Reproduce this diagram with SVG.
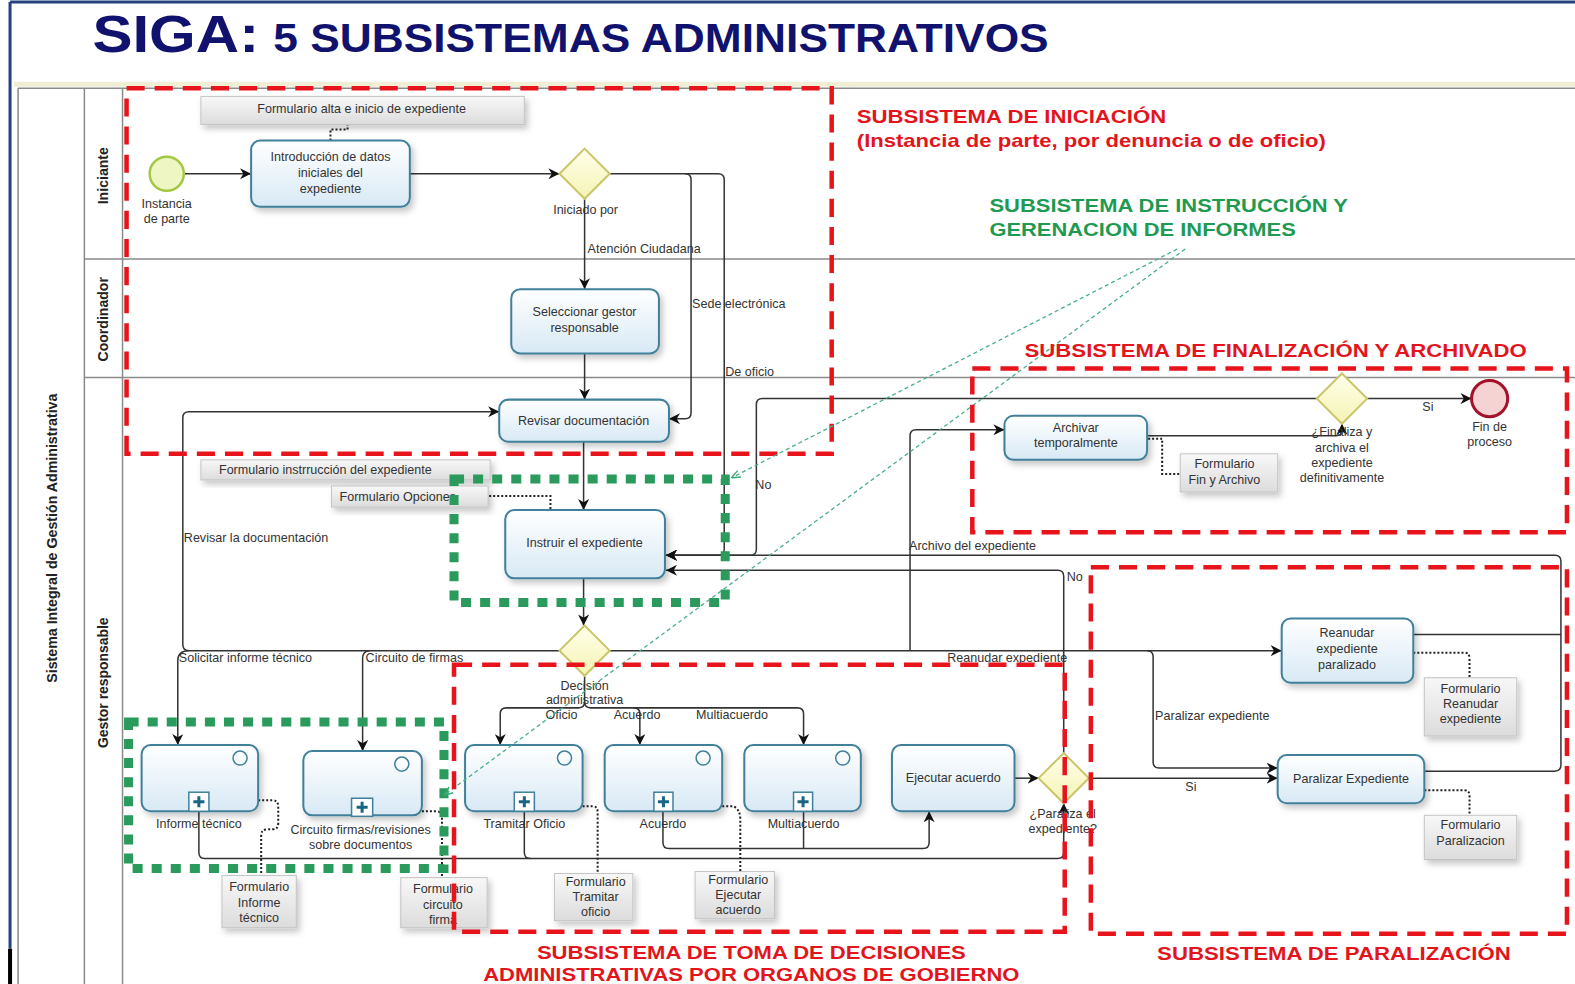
<svg xmlns="http://www.w3.org/2000/svg" width="1575" height="984" viewBox="0 0 1575 984">
<defs>
<linearGradient id="gTask" x1="0" y1="0" x2="0" y2="1"><stop offset="0" stop-color="#ffffff"/><stop offset="1" stop-color="#d8e9f5"/></linearGradient>
<linearGradient id="gGw" x1="0" y1="0" x2="0" y2="1"><stop offset="0" stop-color="#ffffea"/><stop offset="1" stop-color="#f5f3b4"/></linearGradient>
<linearGradient id="gAnn" x1="0" y1="0" x2="0" y2="1"><stop offset="0" stop-color="#f8f8f8"/><stop offset="1" stop-color="#dcdcdc"/></linearGradient>
<filter id="sh" x="-10%" y="-10%" width="130%" height="150%"><feDropShadow dx="3" dy="4" stdDeviation="3" flood-color="#000" flood-opacity="0.22"/></filter>
<marker id="arr" viewBox="0 0 10 10" refX="10" refY="5" markerWidth="11" markerHeight="11" markerUnits="userSpaceOnUse" orient="auto"><path d="M0,0 L10,5 L0,10 L3,5 z" fill="#111"/></marker>
<marker id="arrG" viewBox="0 0 10 10" refX="10" refY="5" markerWidth="9" markerHeight="9" markerUnits="userSpaceOnUse" orient="auto"><path d="M0,1 L10,5 L0,9" fill="none" stroke="#3aa878" stroke-width="1.5"/></marker>
</defs>
<style>
.task{fill:url(#gTask);stroke:#41809b;stroke-width:2;filter:url(#sh)}
.gw{fill:url(#gGw);stroke:#c9c66a;stroke-width:2}
.ann{fill:url(#gAnn);stroke:#c4c4c4;stroke-width:1;filter:url(#sh)}
.c{fill:none;stroke:#333;stroke-width:1.5}
.ca{fill:none;stroke:#333;stroke-width:1.5;marker-end:url(#arr)}
.dot{fill:none;stroke:#222;stroke-width:2;stroke-dasharray:2 2}
.t{font-family:"Liberation Sans",Arial,sans-serif;font-size:12.5px;fill:#333;text-anchor:middle}
.l{font-family:"Liberation Sans",Arial,sans-serif;font-size:12.5px;fill:#333}
.red{fill:none;stroke:#e8141c;stroke-width:4.5;stroke-dasharray:18 10}
.green{fill:none;stroke:#2a9b5c;stroke-width:9;stroke-dasharray:10 9}
.gl{fill:none;stroke:#48b088;stroke-width:1.3;stroke-dasharray:4 3;marker-end:url(#arrG)}
.rt{font-family:"Liberation Sans",Arial,sans-serif;font-weight:bold;font-size:19px;fill:#e3151c}
.gt{font-family:"Liberation Sans",Arial,sans-serif;font-weight:bold;font-size:19px;fill:#1f9a52}
.lane{stroke:#8a8a8a;stroke-width:1.5;fill:none}
.lt{font-family:"Liberation Sans",Arial,sans-serif;font-weight:bold;font-size:14px;fill:#222;text-anchor:middle}
.sub{fill:#ffffff;stroke:#41809b;stroke-width:1.5}
.plus{stroke:#1a6585;stroke-width:3}
.ev{fill:none;stroke:#41809b;stroke-width:1.5}
</style>
<rect width="1575" height="984" fill="#ffffff"/>
<g transform="scale(1.00446,1.00408)">
<!-- frame -->
<g id="frame">
<line x1="10" y1="2" x2="1575" y2="2" stroke="#23427e" stroke-width="3"/>
<line x1="10" y1="2" x2="10" y2="945" stroke="#23427e" stroke-width="3"/>
<line x1="10" y1="945" x2="10" y2="984" stroke="#000" stroke-width="4"/>
<line x1="14" y1="84" x2="1575" y2="84" stroke="#f1eed6" stroke-width="5"/>
</g>
<g id="title">
<text x="92" y="52" font-family="Liberation Sans, Arial, sans-serif" font-weight="bold" font-size="52" fill="#11116e" textLength="166" lengthAdjust="spacingAndGlyphs">SIGA:</text>
<text x="272" y="52" font-family="Liberation Sans, Arial, sans-serif" font-weight="bold" font-size="41" fill="#11116e" textLength="772" lengthAdjust="spacingAndGlyphs">5 SUBSISTEMAS ADMINISTRATIVOS</text>
</g>
<!-- pool & lanes -->
<g id="pool">
<line class="lane" x1="18" y1="88" x2="1575" y2="88"/>
<line class="lane" x1="18" y1="88" x2="18" y2="984"/>
<line class="lane" x1="84" y1="88" x2="84" y2="984"/>
<line class="lane" x1="122" y1="88" x2="122" y2="984"/>
<line class="lane" x1="84" y1="258" x2="1575" y2="258"/>
<line class="lane" x1="84" y1="376" x2="1575" y2="376"/>
<text class="lt" transform="translate(57,536) rotate(-90)" textLength="288" lengthAdjust="spacingAndGlyphs">Sistema Integral de Gestión Administrativa</text>
<text class="lt" transform="translate(108,175) rotate(-90)" textLength="57" lengthAdjust="spacingAndGlyphs">Iniciante</text>
<text class="lt" transform="translate(108,318) rotate(-90)" textLength="84" lengthAdjust="spacingAndGlyphs">Coordinador</text>
<text class="lt" transform="translate(108,680) rotate(-90)" textLength="130" lengthAdjust="spacingAndGlyphs">Gestor responsable</text>
</g>
<!-- connectors -->
<g id="connectors">
<path class="ca" d="M184,173 H250"/>
<path class="ca" d="M408,173 H557"/>
<path class="ca" d="M582,198 V288"/>
<path class="ca" d="M607,173 H715 Q721,173 721,179 V547 Q721,553 715,553 H663"/>
<path class="ca" d="M682,173 Q688,173 688,179 V411 Q688,417 682,417 H666"/>
<path class="ca" d="M582,352 V398"/>
<path class="ca" d="M581,440 V508"/>
<path class="ca" d="M581,576 V623"/>
<path class="ca" d="M557,648 H188 Q182,648 182,642 V416 Q182,410 188,410 H497"/>
<path class="ca" d="M188,648 Q177,648 177,658 V742"/>
<path class="ca" d="M368,648 Q361,648 361,656 V748"/>
<path class="c" d="M582,673 V699"/>
<path class="ca" d="M582,699 Q582,705 576,705 H504 Q498,705 498,711 V742"/>
<path class="ca" d="M582,699 Q582,705 588,705 H631 Q637,705 637,711 V742"/>
<path class="ca" d="M631,705 H794 Q800,705 800,711 V742"/>
<path class="ca" d="M607,648 H1276"/>
<path class="ca" d="M1142,648 Q1148,648 1148,654 V759 Q1148,765 1154,765 H1272"/>
<path class="ca" d="M1084,775 H1272"/>
<path class="ca" d="M1010,775 H1034"/>
<path class="ca" d="M1059,750 V574 Q1059,568 1053,568 H663"/>
<path class="ca" d="M198,808 V849 Q198,855 204,855 H1053 Q1059,855 1059,849 V800"/>
<path class="c" d="M522,808 V849 Q522,855 528,855"/>
<path class="ca" d="M660,808 V839 Q660,845 666,845 H919 Q925,845 925,839 V808"/>
<path class="c" d="M800,808 V845"/>
<path class="c" d="M1407,632 H1554"/>
<path class="ca" d="M1418,768 H1548 Q1554,768 1554,762 V559 Q1554,553 1548,553 H663"/>
<path class="ca" d="M1311,397 H759 Q753,397 753,403 V547 Q753,553 747,553 H663"/>
<path class="ca" d="M906,648 V434 Q906,428 912,428 H1000"/>
<path class="ca" d="M1142,434 H1330 Q1336,434 1336,428 V422"/>
<path class="ca" d="M1361,397 H1465"/>
<!-- annotation associations -->
<path class="dot" d="M329,140 V129 H346 V124"/>
<path class="dot" d="M487,494 H548 V507"/>
<path class="dot" d="M1143,437 H1157 V472 H1176"/>
<path class="dot" d="M257,797 H271 Q277,797 277,803 V820 Q277,826 271,826 H266 Q260,826 260,832 V872"/>
<path class="dot" d="M420,808 H434 Q440,808 440,814 V874"/>
<path class="dot" d="M580,803 H590 Q595,803 595,809 V870"/>
<path class="dot" d="M719,803 H730 Q737,806 737,816 V868"/>
<path class="dot" d="M1407,650 H1458 Q1463,650 1463,656 V675"/>
<path class="dot" d="M1418,787 H1458 Q1463,787 1463,793 V812"/>
<!-- labels -->
<text class="l" x="585" y="252">Atención Ciudadana</text>
<text class="l" x="689" y="307">Sede electrónica</text>
<text class="l" x="722" y="374">De oficio</text>
<text class="l" x="752" y="487">No</text>
<text class="l" x="183" y="540">Revisar la documentación</text>
<text class="l" x="178" y="659">Solicitar informe técnico</text>
<text class="l" x="364" y="659">Circuito de firmas</text>
<text class="l" x="543" y="716">Oficio</text>
<text class="l" x="611" y="716">Acuerdo</text>
<text class="l" x="693" y="716">Multiacuerdo</text>
<text class="l" x="943" y="659">Reanudar expediente</text>
<text class="l" x="905" y="548">Archivo del expediente</text>
<text class="l" x="1062" y="579">No</text>
<text class="l" x="1150" y="717">Paralizar expediente</text>
<text class="l" x="1180" y="788">Si</text>
<text class="l" x="1416" y="409">Si</text>
</g>
<!-- nodes -->
<g id="start"><circle cx="166" cy="173" r="17" fill="#eef6c4" stroke="#a4c744" stroke-width="2.5"/><text class="t" x="166" y="207">Instancia</text><text class="t" x="166" y="222">de parte</text></g>
<g id="intro"><rect class="task" x="250" y="140" width="158" height="66" rx="9"/><text class="t" x="329" y="160">Introducción de datos</text><text class="t" x="329" y="176">iniciales del</text><text class="t" x="329" y="192">expediente</text></g>
<g id="ann-alta"><rect class="ann" x="200" y="96" width="322" height="28"/><text class="t" x="360" y="113">Formulario alta e inicio de expediente</text></g>
<g id="gw-iniciado"><polygon class="gw" points="582,148 607,173 582,198 557,173"/><text class="t" x="583" y="213">Iniciado por</text></g>
<g id="seleccionar"><rect class="task" x="509" y="288" width="147" height="64" rx="9"/><text class="t" x="582" y="315">Seleccionar gestor</text><text class="t" x="582" y="331">responsable</text></g>
<g id="revisar"><rect class="task" x="497" y="398" width="169" height="42" rx="9"/><text class="t" x="581" y="423">Revisar documentación</text></g>
<g id="ann-instr"><rect class="ann" x="200" y="458" width="288" height="20"/><text class="l" x="218" y="472">Formulario  instrrucción del expediente</text></g>
<g id="ann-opciones"><rect class="ann" x="330" y="484" width="156" height="21"/><text class="l" x="338" y="499">Formulario Opciones</text></g>
<g id="instruir"><rect class="task" x="503" y="508" width="159" height="68" rx="9"/><text class="t" x="582" y="545">Instruir el expediente</text></g>
<g id="gw-decision"><polygon class="gw" points="582,623 607,648 582,673 557,648"/><text class="t" x="582" y="687">Decisión</text><text class="t" x="582" y="701">administrativa</text></g>
<g id="informe"><rect class="task" x="141" y="742" width="116" height="66" rx="9"/><circle class="ev" cx="239" cy="755" r="7"/><rect class="sub" x="188" y="789" width="20" height="19"/><path class="plus" d="M198,793 V804 M192.5,798.5 H203.5"/><text class="t" x="198" y="825">Informe técnico</text></g>
<g id="circuito"><rect class="task" x="302" y="748" width="118" height="64" rx="9"/><circle class="ev" cx="400" cy="761" r="7"/><rect class="sub" x="350" y="795" width="21" height="18"/><path class="plus" d="M360.5,798.5 V809.5 M355,804 H366"/><text class="t" x="359" y="831">Circuito firmas/revisiones</text><text class="t" x="359" y="846">sobre documentos</text></g>
<g id="tramitar"><rect class="task" x="463" y="742" width="117" height="66" rx="9"/><circle class="ev" cx="562" cy="755" r="7"/><rect class="sub" x="512" y="789" width="20" height="19"/><path class="plus" d="M522,793 V804 M516.5,798.5 H527.5"/><text class="t" x="522" y="825">Tramitar  Oficio</text></g>
<g id="acuerdo"><rect class="task" x="602" y="742" width="117" height="66" rx="9"/><circle class="ev" cx="700" cy="755" r="7"/><rect class="sub" x="651" y="789" width="19" height="19"/><path class="plus" d="M660.5,793 V804 M655,798.5 H666"/><text class="t" x="660" y="825">Acuerdo</text></g>
<g id="multiacuerdo"><rect class="task" x="741" y="742" width="116" height="66" rx="9"/><circle class="ev" cx="839" cy="755" r="7"/><rect class="sub" x="790" y="789" width="19" height="19"/><path class="plus" d="M799.5,793 V804 M794,798.5 H805"/><text class="t" x="800" y="825">Multiacuerdo</text></g>
<g id="ejecutar"><rect class="task" x="888" y="742" width="122" height="66" rx="9"/><text class="t" x="949" y="779">Ejecutar acuerdo</text></g>
<g id="gw-paraliza"><polygon class="gw" points="1059,750 1084,775 1059,800 1034,775"/><text class="t" x="1058" y="815">¿Paraliza el</text><text class="t" x="1058" y="830">expediente?</text></g>
<g id="ann-informe"><rect class="ann" x="221" y="872" width="74" height="52"/><text class="t" x="258" y="887">Formulario</text><text class="t" x="258" y="903">Informe</text><text class="t" x="258" y="918">técnico</text></g>
<g id="ann-circuito"><rect class="ann" x="399" y="874" width="86" height="50"/><text class="t" x="441" y="889">Formulario</text><text class="t" x="441" y="905">circuito</text><text class="t" x="441" y="920">firma</text></g>
<g id="ann-tramitar"><rect class="ann" x="552" y="870" width="78" height="47"/><text class="t" x="593" y="882">Formulario</text><text class="t" x="593" y="897">Tramitar</text><text class="t" x="593" y="912">oficio</text></g>
<g id="ann-ejecutar"><rect class="ann" x="692" y="868" width="79" height="47"/><text class="t" x="735" y="880">Formulario</text><text class="t" x="735" y="895">Ejecutar</text><text class="t" x="735" y="910">acuerdo</text></g>
<g id="archivar"><rect class="task" x="1000" y="414" width="142" height="44" rx="9"/><text class="t" x="1071" y="430">Archivar</text><text class="t" x="1071" y="445">temporalmente</text></g>
<g id="ann-fin"><rect class="ann" x="1175" y="452" width="97" height="38"/><text class="t" x="1219" y="466">Formulario</text><text class="t" x="1219" y="482">Fin y  Archivo</text></g>
<g id="gw-finaliza"><polygon class="gw" points="1336,372 1361,397 1336,422 1311,397"/><text class="t" x="1336" y="434">¿Finaliza y</text><text class="t" x="1336" y="450">archiva el</text><text class="t" x="1336" y="465">expediente</text><text class="t" x="1336" y="480">definitivamente</text></g>
<g id="fin"><circle cx="1483" cy="397" r="18" fill="#f6d3d3" stroke="#a3122a" stroke-width="3"/><text class="t" x="1483" y="429">Fin de</text><text class="t" x="1483" y="444">proceso</text></g>
<g id="reanudar"><rect class="task" x="1276" y="616" width="131" height="64" rx="9"/><text class="t" x="1341" y="634">Reanudar</text><text class="t" x="1341" y="650">expediente</text><text class="t" x="1341" y="666">paralizado</text></g>
<g id="ann-reanudar"><rect class="ann" x="1418" y="675" width="92" height="58"/><text class="t" x="1464" y="690">Formulario</text><text class="t" x="1464" y="705">Reanudar</text><text class="t" x="1464" y="720">expediente</text></g>
<g id="paralizar"><rect class="task" x="1272" y="752" width="146" height="48" rx="9"/><text class="t" x="1345" y="780">Paralizar Expediente</text></g>
<g id="ann-paraliz"><rect class="ann" x="1418" y="812" width="92" height="44"/><text class="t" x="1464" y="826">Formulario</text><text class="t" x="1464" y="842">Paralizacion</text></g>
<!-- subsystem regions -->
<g id="sub-iniciacion"><path class="red" d="M126,452 V88 H828 V452 Z"/><text class="rt" x="853" y="123" textLength="308" lengthAdjust="spacingAndGlyphs">SUBSISTEMA DE INICIACIÓN</text><text class="rt" x="853" y="146" textLength="467" lengthAdjust="spacingAndGlyphs">(Instancia de parte, por denuncia o de oficio)</text></g>
<g id="sub-instruccion"><rect class="green" x="452" y="477" width="270" height="123"/><rect class="green" x="128" y="719" width="314" height="146"/><path class="gl" d="M1172,248 L728,476"/><path class="gl" d="M1180,248 L442,792"/><text class="gt" x="985" y="211" textLength="357" lengthAdjust="spacingAndGlyphs">SUBSISTEMA DE INSTRUCCIÓN Y</text><text class="gt" x="985" y="235" textLength="305" lengthAdjust="spacingAndGlyphs">GERENACION DE INFORMES</text></g>
<g id="sub-finalizacion"><rect class="red" x="968" y="367" width="592" height="163"/><text class="rt" x="1020" y="356" textLength="500" lengthAdjust="spacingAndGlyphs">SUBSISTEMA DE FINALIZACIÓN Y ARCHIVADO</text></g>
<g id="sub-decisiones"><rect class="red" x="452" y="662" width="608" height="266"/><text class="rt" x="748" y="955" text-anchor="middle" textLength="427" lengthAdjust="spacingAndGlyphs">SUBSISTEMA DE TOMA DE DECISIONES</text><text class="rt" x="748" y="977" text-anchor="middle" textLength="534" lengthAdjust="spacingAndGlyphs">ADMINISTRATIVAS POR ORGANOS DE GOBIERNO</text></g>
<g id="sub-paralizacion"><rect class="red" x="1086" y="565" width="474" height="365"/><text class="rt" x="1328" y="956" text-anchor="middle" textLength="352" lengthAdjust="spacingAndGlyphs">SUBSISTEMA DE PARALIZACIÓN</text></g>
</g>
</svg>
